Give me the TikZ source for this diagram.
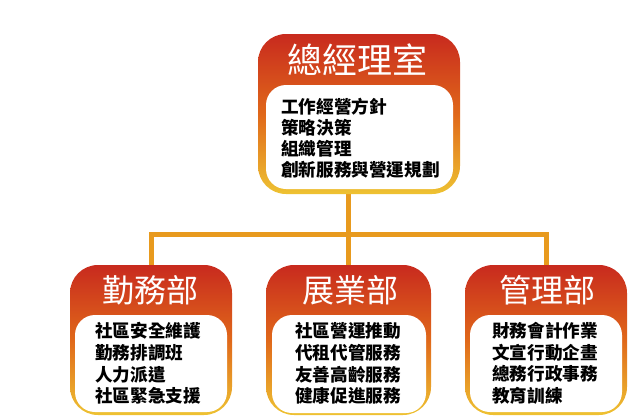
\documentclass[tikz,border=0pt]{standalone}
\usepackage{fontspec}
\newfontfamily\cjk{Noto Sans CJK TC}
\usetikzlibrary{backgrounds}
\definecolor{boxred}{RGB}{200,42,30}
\definecolor{boxorange}{RGB}{224,104,26}
\definecolor{boxyellow}{RGB}{238,194,50}
\definecolor{linecol}{RGB}{232,154,30}
\tikzset{
  outerbox/.style={rectangle, rounded corners=28pt, top color=boxred, bottom color=boxyellow, middle color=boxorange, inner sep=0pt},
  innerbox/.style={rectangle, rounded corners=20pt, fill=white, inner sep=0pt},
  bigtitle/.style={text=white, inner sep=0pt, font={\cjk\fontsize{35}{40}\selectfont}},
  depttitle/.style={text=white, inner sep=0pt, font={\cjk\fontsize{32}{36}\selectfont}},
  bodytext/.style={text=black, inner sep=0pt, anchor=west, align=left, font={\cjk\bfseries\fontsize{17.6}{20.8}\selectfont}},
  depttext/.style={bodytext, font={\cjk\bfseries\fontsize{17.6}{21.6}\selectfont}},
  conn/.style={draw=linecol, line width=5pt}
}
\begin{document}
\begin{tikzpicture}[x=1pt,y=-1pt]
\useasboundingbox (0,0) rectangle (628,418);
% top box
\node[outerbox, minimum width=202pt, minimum height=160pt] (ceo) at (359,114) {};
\node[bigtitle] (ceotitle) at (357,60) {總經理室};
\node[innerbox, minimum width=187pt, minimum height=104pt] (ceoin) at (359.5,137) {};
\node[bodytext] (ceotext) at (281,138) {工作經營方針\\策略決策\\組織管理\\創新服務與營運規劃};
% left dept
\node[outerbox, minimum width=162pt, minimum height=150pt] (d1) at (151,340) {};
\node[depttitle] (d1title) at (150.5,290) {勤務部};
\node[innerbox, minimum width=152pt, minimum height=97pt] (d1in) at (151,363.5) {};
\node[depttext] (d1text) at (95,363.5) {社區安全維護\\勤務排調班\\人力派遣\\社區緊急支援};
% middle dept
\node[outerbox, minimum width=165pt, minimum height=150pt] (d2) at (348.5,340) {};
\node[depttitle] (d2title) at (350,290) {展業部};
\node[innerbox, minimum width=154pt, minimum height=98pt] (d2in) at (349,364) {};
\node[depttext] (d2text) at (295,363.5) {社區營運推動\\代租代管服務\\友善高齡服務\\健康促進服務};
% right dept
\node[outerbox, minimum width=162pt, minimum height=150pt] (d3) at (546,340) {};
\node[depttitle] (d3title) at (547.5,290) {管理部};
\node[innerbox, minimum width=152pt, minimum height=97pt] (d3in) at (546,363.5) {};
\node[depttext] (d3text) at (492,363.5) {財務會計作業\\文宣行動企畫\\總務行政事務\\教育訓練};
% connectors
\coordinate (bus) at (349,234);
\begin{pgfonlayer}{background}
\draw[conn] (ceo.south -| d2.north) -- (d2.north);
\draw[conn] (d1.north) |- (bus) -| (d3.north);
\end{pgfonlayer}
\end{tikzpicture}
\end{document}
